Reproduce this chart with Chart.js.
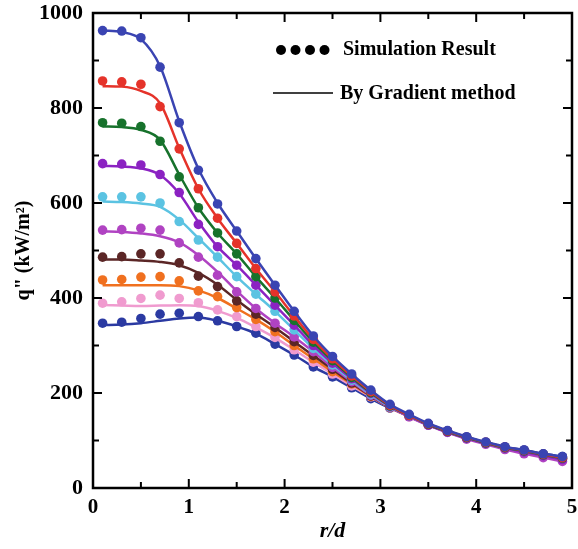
<!DOCTYPE html>
<html>
<head>
<meta charset="utf-8">
<script src="https://cdn.jsdelivr.net/npm/chart.js@4/dist/chart.umd.min.js"></script>
<style>
  html, body { margin: 0; padding: 0; background: #fff; }
  #wrap { width: 578px; height: 549px; }
</style>
</head>
<body>
<div id="wrap"><canvas id="myChart" width="578" height="549"></canvas></div>
<script>
// r/d positions of the points
const rdValues = [0.1, 0.3, 0.5, 0.7, 0.9, 1.1, 1.3, 1.5, 1.7, 1.9, 2.1, 2.3, 2.5,
                  2.7, 2.9, 3.1, 3.3, 3.5, 3.7, 3.9, 4.1, 4.3, 4.5, 4.7, 4.9];

// simulation result (dots), top curve to bottom curve
const simBlue    = [963, 962, 948, 886, 769, 669, 598, 541, 483, 427, 372, 320, 277, 240, 206, 176, 155, 136, 121, 108, 97, 87, 80, 72, 66];
const simRed     = [857, 855, 850, 803, 714, 630, 568, 515, 462, 413, 362, 313, 272, 236, 203, 174, 153, 135, 120, 107, 96, 86, 79, 71, 64];
const simGreen   = [769, 768, 761, 730, 655, 590, 537, 493, 445, 400, 353, 307, 268, 233, 201, 173, 153, 134, 119, 106, 95, 85, 78, 70, 63];
const simPurple  = [683, 682, 680, 660, 622, 555, 508, 469, 427, 385, 343, 300, 263, 230, 199, 172, 152, 133, 118, 105, 94, 84, 76, 68, 60];
const simCyan    = [613, 613, 613, 600, 561, 522, 486, 445, 408, 372, 333, 294, 259, 227, 197, 171, 152, 134, 119, 106, 95, 85, 78, 70, 63];
const simMagenta = [543, 544, 547, 543, 516, 486, 448, 413, 378, 347, 318, 287, 254, 224, 195, 170, 150, 132, 117, 103, 92, 81, 72, 64, 56];
const simBrown   = [486, 487, 493, 493, 474, 446, 424, 394, 366, 338, 308, 279, 250, 221, 194, 170, 151, 133, 118, 105, 94, 84, 77, 69, 62];
const simOrange  = [438, 439, 444, 445, 436, 415, 403, 380, 355, 329, 300, 272, 245, 219, 193, 169, 151, 133, 118, 105, 94, 84, 77, 69, 62];
const simPink    = [389, 392, 399, 406, 399, 390, 375, 361, 340, 317, 291, 265, 240, 215, 192, 169, 150, 133, 118, 105, 94, 84, 76, 68, 61];
const simNavy    = [347, 349, 357, 366, 368, 361, 352, 340, 326, 303, 280, 255, 234, 211, 188, 168, 152, 134, 120, 107, 96, 86, 80, 72, 66];

// by gradient method (lines)
const gradBlue    = [963, 960, 945, 888, 772, 672, 600, 541, 483, 427, 372, 320, 277, 240, 206, 176, 155, 136, 121, 108, 97, 87, 80, 72, 66];
const gradRed     = [846, 845, 836, 810, 716, 630, 568, 515, 462, 413, 362, 313, 272, 236, 203, 174, 153, 135, 120, 107, 96, 86, 79, 71, 64];
const gradGreen   = [761, 760, 754, 733, 660, 590, 537, 493, 445, 400, 353, 307, 268, 233, 201, 173, 153, 134, 119, 106, 95, 85, 78, 70, 63];
const gradPurple  = [678, 677, 673, 659, 620, 560, 508, 469, 427, 385, 343, 300, 263, 230, 199, 172, 152, 133, 118, 105, 94, 84, 76, 68, 60];
const gradCyan    = [603, 602, 599, 592, 565, 526, 486, 445, 408, 372, 333, 294, 259, 227, 197, 171, 152, 134, 119, 106, 95, 85, 78, 70, 63];
const gradMagenta = [540, 539, 536, 530, 517, 490, 455, 415, 378, 347, 318, 287, 254, 224, 195, 170, 150, 132, 117, 103, 92, 81, 72, 64, 56];
const gradBrown   = [481, 481, 479, 476, 469, 453, 428, 396, 366, 338, 308, 279, 250, 221, 194, 170, 151, 133, 118, 105, 94, 84, 77, 69, 62];
const gradOrange  = [427, 427, 427, 427, 425, 416, 400, 378, 355, 329, 300, 272, 245, 219, 193, 169, 151, 133, 118, 105, 94, 84, 77, 69, 62];
const gradPink    = [385, 384, 383, 384, 385, 383, 373, 358, 338, 316, 291, 265, 240, 215, 192, 169, 150, 133, 118, 105, 94, 84, 76, 68, 61];
const gradNavy    = [343, 344, 347, 352, 357, 359, 352, 340, 325, 303, 280, 255, 234, 211, 188, 168, 152, 134, 120, 107, 96, 86, 80, 72, 66];

const xTicks = [0, 1, 2, 3, 4, 5];
const yTicks = [0, 200, 400, 600, 800, 1000];

const seriesList = [
  [simBlue, gradBlue, '#3a44b2'],
  [simRed, gradRed, '#e5332a'],
  [simGreen, gradGreen, '#17722c'],
  [simPurple, gradPurple, '#8b22c2'],
  [simCyan, gradCyan, '#5bc3e2'],
  [simMagenta, gradMagenta, '#b043c2'],
  [simBrown, gradBrown, '#5b2626'],
  [simOrange, gradOrange, '#f0701f'],
  [simPink, gradPink, '#f09bcf'],
  [simNavy, gradNavy, '#2b3aa2']
];

const toPoints = (vals) => vals.map((v, i) => ({ x: rdValues[i], y: v }));

const datasets = [];
seriesList.forEach(s => {
  datasets.push({
    data: toPoints(s[1]),
    showLine: true,
    borderColor: s[2],
    borderWidth: 2.5,
    pointRadius: 0,
    fill: false,
    cubicInterpolationMode: 'monotone'
  });
  datasets.push({
    data: toPoints(s[0]),
    showLine: false,
    pointRadius: 4.8,
    pointBackgroundColor: s[2],
    pointBorderWidth: 0,
    borderColor: s[2]
  });
});

const serif = "'Liberation Serif', 'DejaVu Serif', serif";

// inward ticks on all four sides + box + legend text
const frameAndLegend = {
  id: 'frameAndLegend',
  afterDraw(chart) {
    const ctx = chart.ctx;
    const a = chart.chartArea;
    const xs = chart.scales.x, ys = chart.scales.y;
    ctx.save();
    ctx.strokeStyle = '#000';
    ctx.lineWidth = 2.5;
    ctx.strokeRect(a.left, a.top, a.right - a.left, a.bottom - a.top);
    ctx.lineWidth = 2;
    for (let v = 0; v <= 5.001; v += 0.5) {
      const px = xs.getPixelForValue(v);
      const len = (Math.abs(v - Math.round(v)) < 0.01) ? 9 : 6;
      ctx.beginPath();
      ctx.moveTo(px, a.bottom); ctx.lineTo(px, a.bottom - len);
      ctx.moveTo(px, a.top); ctx.lineTo(px, a.top + len);
      ctx.stroke();
    }
    for (let v = 0; v <= 1000; v += 100) {
      const py = ys.getPixelForValue(v);
      const len = (v % 200 === 0) ? 9 : 6;
      ctx.beginPath();
      ctx.moveTo(a.left, py); ctx.lineTo(a.left + len, py);
      ctx.moveTo(a.right, py); ctx.lineTo(a.right - len, py);
      ctx.stroke();
    }
    // legend
    ctx.fillStyle = '#000';
    for (let i = 0; i < 4; i++) {
      ctx.beginPath();
      ctx.arc(281 + i * 14.5, 50, 5, 0, Math.PI * 2);
      ctx.fill();
    }
    ctx.lineWidth = 1.5;
    ctx.beginPath();
    ctx.moveTo(273, 93); ctx.lineTo(333, 93);
    ctx.stroke();
    ctx.font = 'bold 20px ' + serif;
    ctx.textBaseline = 'middle';
    ctx.textAlign = 'left';
    ctx.fillText('Simulation Result', 343, 50);
    ctx.fillText('By Gradient method', 340, 94);
    ctx.restore();
  }
};

const config = {
  type: 'scatter',
  data: { datasets: datasets },
  options: {
    responsive: false,
    animation: false,
    layout: { padding: { top: 13, right: 6, left: 0, bottom: 0 } },
    plugins: { legend: { display: false }, tooltip: { enabled: false } },
    scales: {
      x: {
        type: 'linear',
        min: 0, max: 5,
        afterFit(scale) {
          scale.height = 61;
          scale.paddingLeft = 0;
          scale.paddingRight = 0;
        },
        afterBuildTicks(scale) { scale.ticks = xTicks.map(v => ({ value: v })); },
        grid: { display: false, drawTicks: false },
        border: { display: false },
        ticks: { color: '#000', padding: 7, font: { family: serif, size: 21, weight: 'bold' } },
        title: { display: true, text: 'r/d', color: '#000', padding: { top: 0 },
                 font: { family: serif, size: 22, weight: 'bold', style: 'italic' } }
      },
      y: {
        min: 0, max: 1000,
        afterFit(scale) {
          scale.width = 93;
          scale.paddingTop = 0;
          scale.paddingBottom = 0;
        },
        afterBuildTicks(scale) { scale.ticks = yTicks.map(v => ({ value: v })); },
        grid: { display: false, drawTicks: false },
        border: { display: false },
        ticks: { color: '#000', padding: 10, callback: (v) => String(v),
                 font: { family: serif, size: 22, weight: 'bold' } },
        title: { display: true, text: 'q" (kW/m²)', color: '#000', padding: { top: 12, bottom: 0 },
                 font: { family: serif, size: 20, weight: 'bold' } }
      }
    }
  },
  plugins: [frameAndLegend]
};

window.addEventListener('DOMContentLoaded', () => {
  const myChart = new Chart(document.getElementById('myChart'), config);
});
</script>
</body>
</html>
